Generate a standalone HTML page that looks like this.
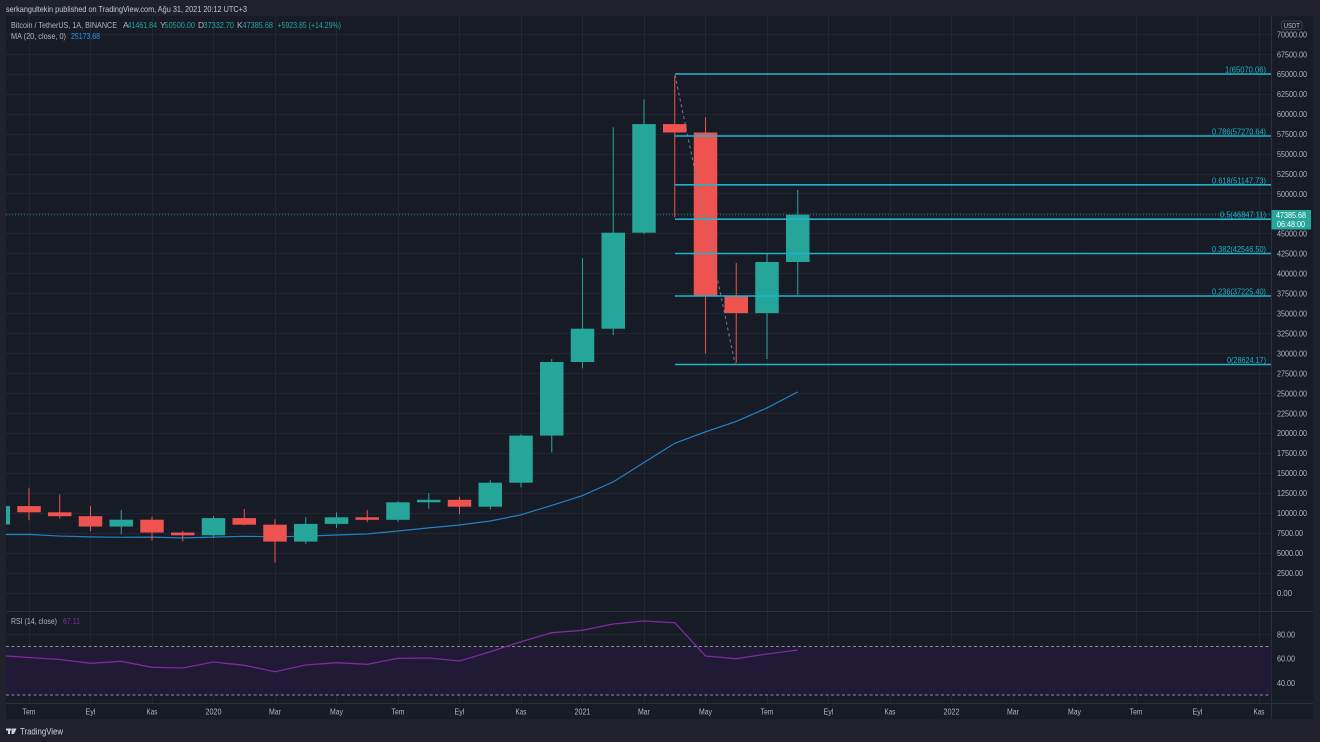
<!DOCTYPE html>
<html><head><meta charset="utf-8"><style>
html,body{margin:0;padding:0;background:#1f222c;}
svg{display:block;font-family:"Liberation Sans",sans-serif;}
</style></head><body>
<svg width="1320" height="742" viewBox="0 0 1320 742" xmlns="http://www.w3.org/2000/svg">
<defs>
<clipPath id="mp"><rect x="6" y="16" width="1265.5" height="595.5"/></clipPath>
<clipPath id="rp"><rect x="6" y="612" width="1265.5" height="91"/></clipPath>
</defs>
<rect x="0" y="0" width="1320" height="742" fill="#1f222c"/>
<text x="6" y="12" font-size="8.5" fill="#c3c6ce" textLength="241" lengthAdjust="spacingAndGlyphs">serkangultekin published on TradingView.com, Ağu 31, 2021 20:12 UTC+3</text>
<rect x="6" y="16" width="1307" height="703" fill="#171b26"/>

<!-- horizontal grid main -->
<g stroke="#222632" stroke-width="1">
<line x1="6" x2="1271" y1="34.5" y2="34.5"/><line x1="6" x2="1271" y1="54.5" y2="54.5"/><line x1="6" x2="1271" y1="74.5" y2="74.5"/><line x1="6" x2="1271" y1="94.5" y2="94.5"/><line x1="6" x2="1271" y1="114.5" y2="114.5"/><line x1="6" x2="1271" y1="134.5" y2="134.5"/><line x1="6" x2="1271" y1="154.5" y2="154.5"/><line x1="6" x2="1271" y1="174.5" y2="174.5"/><line x1="6" x2="1271" y1="193.5" y2="193.5"/><line x1="6" x2="1271" y1="213.5" y2="213.5"/><line x1="6" x2="1271" y1="233.5" y2="233.5"/><line x1="6" x2="1271" y1="253.5" y2="253.5"/><line x1="6" x2="1271" y1="273.5" y2="273.5"/><line x1="6" x2="1271" y1="293.5" y2="293.5"/><line x1="6" x2="1271" y1="313.5" y2="313.5"/><line x1="6" x2="1271" y1="333.5" y2="333.5"/><line x1="6" x2="1271" y1="353.5" y2="353.5"/><line x1="6" x2="1271" y1="373.5" y2="373.5"/><line x1="6" x2="1271" y1="393.5" y2="393.5"/><line x1="6" x2="1271" y1="413.5" y2="413.5"/><line x1="6" x2="1271" y1="433.5" y2="433.5"/><line x1="6" x2="1271" y1="453.5" y2="453.5"/><line x1="6" x2="1271" y1="473.5" y2="473.5"/><line x1="6" x2="1271" y1="493.5" y2="493.5"/><line x1="6" x2="1271" y1="513.5" y2="513.5"/><line x1="6" x2="1271" y1="533.5" y2="533.5"/><line x1="6" x2="1271" y1="553.5" y2="553.5"/><line x1="6" x2="1271" y1="573.5" y2="573.5"/><line x1="6" x2="1271" y1="593.5" y2="593.5"/>
<line x1="6" x2="1271" y1="634.5" y2="634.5"/><line x1="6" x2="1271" y1="658.5" y2="658.5"/><line x1="6" x2="1271" y1="683.5" y2="683.5"/>
</g>
<!-- vertical grid -->
<g stroke="#222632" stroke-width="1">
<line y1="16" y2="703" x1="29.5" x2="29.5"/><line y1="16" y2="703" x1="90.5" x2="90.5"/><line y1="16" y2="703" x1="152.5" x2="152.5"/><line y1="16" y2="703" x1="213.5" x2="213.5"/><line y1="16" y2="703" x1="275.5" x2="275.5"/><line y1="16" y2="703" x1="336.5" x2="336.5"/><line y1="16" y2="703" x1="398.5" x2="398.5"/><line y1="16" y2="703" x1="459.5" x2="459.5"/><line y1="16" y2="703" x1="521.5" x2="521.5"/><line y1="16" y2="703" x1="582.5" x2="582.5"/><line y1="16" y2="703" x1="644.5" x2="644.5"/><line y1="16" y2="703" x1="705.5" x2="705.5"/><line y1="16" y2="703" x1="767.5" x2="767.5"/><line y1="16" y2="703" x1="828.5" x2="828.5"/><line y1="16" y2="703" x1="890.5" x2="890.5"/><line y1="16" y2="703" x1="951.5" x2="951.5"/><line y1="16" y2="703" x1="1013.5" x2="1013.5"/><line y1="16" y2="703" x1="1074.5" x2="1074.5"/><line y1="16" y2="703" x1="1136.5" x2="1136.5"/><line y1="16" y2="703" x1="1197.5" x2="1197.5"/><line y1="16" y2="703" x1="1259.5" x2="1259.5"/>
</g>

<!-- separators -->
<g stroke="#2c303c" stroke-width="1">
<line x1="1271.5" x2="1271.5" y1="16" y2="719"/>
<line x1="6" x2="1313" y1="611.5" y2="611.5"/>
<line x1="6" x2="1313" y1="703.5" y2="703.5"/>
</g>

<!-- main pane -->
<g clip-path="url(#mp)">
<!-- MA -->
<polyline fill="none" stroke="#2183c4" stroke-width="1.2" points="-1.75,534.5 29,534.4 59.75,536.05 90.5,536.85 121.25,537.3 152,537.1 182.75,537.9 213.5,537.15 244.25,536.3 275,536.8 305.75,536.2 336.5,535 367.25,533.95 398,531 428.75,527.9 459.5,525 490.25,521 521,514.8 551.75,505.4 582.5,495.6 613.25,481.9 644,462.5 674.75,443.3 705.5,431.8 736.25,421.45 767,407.9 797.75,391.9"/>
<!-- wicks -->
<g stroke-width="1">
<line stroke="#26a69a" x1="-1.75" x2="-1.75" y1="481.3" y2="533.3"/>
<line stroke="#ef5350" x1="29" x2="29" y1="487.8" y2="520.3"/>
<line stroke="#ef5350" x1="59.75" x2="59.75" y1="494.4" y2="518.4"/>
<line stroke="#ef5350" x1="90.5" x2="90.5" y1="505.7" y2="531.2"/>
<line stroke="#26a69a" x1="121.25" x2="121.25" y1="510" y2="534.5"/>
<line stroke="#ef5350" x1="152" x2="152" y1="516.9" y2="540.7"/>
<line stroke="#ef5350" x1="182.75" x2="182.75" y1="530.9" y2="541.4"/>
<line stroke="#26a69a" x1="213.5" x2="213.5" y1="516.3" y2="537.9"/>
<line stroke="#ef5350" x1="244.25" x2="244.25" y1="508.9" y2="525.3"/>
<line stroke="#ef5350" x1="275" x2="275" y1="519.4" y2="562.5"/>
<line stroke="#26a69a" x1="305.75" x2="305.75" y1="517.2" y2="543.6"/>
<line stroke="#26a69a" x1="336.5" x2="336.5" y1="512.4" y2="527.95"/>
<line stroke="#ef5350" x1="367.25" x2="367.25" y1="509.9" y2="522.2"/>
<line stroke="#26a69a" x1="398" x2="398" y1="501.4" y2="521.8"/>
<line stroke="#26a69a" x1="428.75" x2="428.75" y1="493.2" y2="508.8"/>
<line stroke="#ef5350" x1="459.5" x2="459.5" y1="496.6" y2="514.3"/>
<line stroke="#26a69a" x1="490.25" x2="490.25" y1="480.2" y2="509.6"/>
<line stroke="#26a69a" x1="521" x2="521" y1="434.3" y2="487.4"/>
<line stroke="#26a69a" x1="551.75" x2="551.75" y1="359" y2="452.5"/>
<line stroke="#26a69a" x1="582.5" x2="582.5" y1="258.1" y2="368.3"/>
<line stroke="#26a69a" x1="613.25" x2="613.25" y1="127.2" y2="335.1"/>
<line stroke="#26a69a" x1="644" x2="644" y1="99.4" y2="234.1"/>
<line stroke="#ef5350" x1="674.75" x2="674.75" y1="75.4" y2="217.4"/>
<line stroke="#ef5350" x1="705.5" x2="705.5" y1="117.3" y2="353.4"/>
<line stroke="#ef5350" x1="736.25" x2="736.25" y1="263" y2="362.9"/>
<line stroke="#26a69a" x1="767" x2="767" y1="254.1" y2="359.1"/>
<line stroke="#26a69a" x1="797.75" x2="797.75" y1="189.9" y2="294.9"/>
</g>
<!-- bodies -->
<g>
<rect fill="#26a69a" x="-13.5" y="506.1" width="23.5" height="18.4"/>
<rect fill="#ef5350" x="17.25" y="506.1" width="23.5" height="6.2"/>
<rect fill="#ef5350" x="48" y="512.3" width="23.5" height="3.9"/>
<rect fill="#ef5350" x="78.75" y="516.2" width="23.5" height="10.35"/>
<rect fill="#26a69a" x="109.5" y="519.7" width="23.5" height="6.85"/>
<rect fill="#ef5350" x="140.25" y="519.7" width="23.5" height="12.85"/>
<rect fill="#ef5350" x="171" y="532.55" width="23.5" height="2.75"/>
<rect fill="#26a69a" x="201.75" y="518.1" width="23.5" height="17.2"/>
<rect fill="#ef5350" x="232.5" y="518.1" width="23.5" height="6.6"/>
<rect fill="#ef5350" x="263.25" y="524.7" width="23.5" height="16.9"/>
<rect fill="#26a69a" x="294" y="523.9" width="23.5" height="17.7"/>
<rect fill="#26a69a" x="324.75" y="517.3" width="23.5" height="6.6"/>
<rect fill="#ef5350" x="355.5" y="517.3" width="23.5" height="2.5"/>
<rect fill="#26a69a" x="386.25" y="502.3" width="23.5" height="17.5"/>
<rect fill="#26a69a" x="417" y="499.8" width="23.5" height="2.5"/>
<rect fill="#ef5350" x="447.75" y="499.8" width="23.5" height="6.9"/>
<rect fill="#26a69a" x="478.5" y="482.7" width="23.5" height="24"/>
<rect fill="#26a69a" x="509.25" y="435.6" width="23.5" height="47.1"/>
<rect fill="#26a69a" x="540" y="362" width="23.5" height="73.6"/>
<rect fill="#26a69a" x="570.75" y="328.7" width="23.5" height="33.3"/>
<rect fill="#26a69a" x="601.5" y="232.7" width="23.5" height="96"/>
<rect fill="#26a69a" x="632.25" y="124.1" width="23.5" height="108.6"/>
<rect fill="#ef5350" x="663" y="124.1" width="23.5" height="8.4"/>
<rect fill="#ef5350" x="693.75" y="132.5" width="23.5" height="163"/>
<rect fill="#ef5350" x="724.5" y="295.5" width="23.5" height="17.6"/>
<rect fill="#26a69a" x="755.25" y="262" width="23.5" height="51.1"/>
<rect fill="#26a69a" x="786" y="214.7" width="23.5" height="47.3"/>
</g>
<!-- current price line -->
<line x1="6" x2="1271" y1="214.7" y2="214.7" stroke="#26a69a" stroke-width="1" stroke-dasharray="1,2" opacity="0.8"/>
<!-- fib trend line -->
<line x1="675" y1="75" x2="735" y2="363.5" stroke="#7a7d88" stroke-width="1" stroke-dasharray="3,3"/>
<!-- fib levels -->
<g stroke="#1fb3ca" stroke-width="1.6">
<line x1="675" x2="1271" y1="74" y2="74"/>
<line x1="675" x2="1271" y1="136" y2="136"/>
<line x1="675" x2="1271" y1="184.8" y2="184.8"/>
<line x1="675" x2="1271" y1="219.2" y2="219.2"/>
<line x1="675" x2="1271" y1="253.5" y2="253.5"/>
<line x1="675" x2="1271" y1="296" y2="296"/>
<line x1="675" x2="1271" y1="364.5" y2="364.5"/>
</g>
<g font-size="8" fill="#1fb3ca" text-anchor="end">
<text x="1266" y="72.5" textLength="41" lengthAdjust="spacingAndGlyphs">1(65070.06)</text>
<text x="1266" y="134.5" textLength="54" lengthAdjust="spacingAndGlyphs">0.786(57270.64)</text>
<text x="1266" y="183.3" textLength="54" lengthAdjust="spacingAndGlyphs">0.618(51147.73)</text>
<text x="1266" y="217.7" textLength="46" lengthAdjust="spacingAndGlyphs">0.5(46847.11)</text>
<text x="1266" y="252" textLength="54" lengthAdjust="spacingAndGlyphs">0.382(42546.50)</text>
<text x="1266" y="294.5" textLength="54" lengthAdjust="spacingAndGlyphs">0.236(37225.40)</text>
<text x="1266" y="363" textLength="39" lengthAdjust="spacingAndGlyphs">0(28624.17)</text>
</g>
</g>

<!-- RSI pane -->
<g clip-path="url(#rp)">
<rect x="6" y="646.5" width="1265.5" height="48.5" fill="#211a37"/>
<line x1="6" x2="1271" y1="646.5" y2="646.5" stroke="#8a8d98" stroke-width="1" stroke-dasharray="3,2.5"/>
<line x1="6" x2="1271" y1="695" y2="695" stroke="#8a8d98" stroke-width="1" stroke-dasharray="3,2.5"/>
<polyline fill="none" stroke="#7d2a9e" stroke-width="1.3" points="-1.75,655.5 29,657.5 59.75,659.5 90.5,663.3 121.25,661.3 152,667.3 182.75,668 213.5,662 244.25,665.3 275,671.7 305.75,665 336.5,662.7 367.25,664.3 398,658.3 428.75,658 459.5,661 490.25,651.7 521,641.7 551.75,632.7 582.5,630.3 613.25,624 644,621 674.75,622.7 705.5,656 736.25,658.7 767,654 797.75,650"/>
</g>
<text x="11" y="624" font-size="8" fill="#b2b5be" textLength="46" lengthAdjust="spacingAndGlyphs">RSI (14, close)</text>
<text x="63" y="624" font-size="8" fill="#7d2a9e" textLength="17" lengthAdjust="spacingAndGlyphs">67.11</text>

<!-- legend -->
<g font-size="8.5">
<text x="11" y="28" fill="#b2b5be" textLength="106" lengthAdjust="spacingAndGlyphs">Bitcoin / TetherUS, 1A, BINANCE</text>
<text x="123" y="28" fill="#b2b5be">A</text>
<text x="127.5" y="28" fill="#26a69a" textLength="29.5" lengthAdjust="spacingAndGlyphs">41461.84</text>
<text x="160" y="28" fill="#b2b5be">Y</text>
<text x="164.5" y="28" fill="#26a69a" textLength="30.5" lengthAdjust="spacingAndGlyphs">50500.00</text>
<text x="198" y="28" fill="#b2b5be">D</text>
<text x="203.5" y="28" fill="#26a69a" textLength="30.5" lengthAdjust="spacingAndGlyphs">37332.70</text>
<text x="237" y="28" fill="#b2b5be">K</text>
<text x="242.5" y="28" fill="#26a69a" textLength="30.5" lengthAdjust="spacingAndGlyphs">47385.68</text>
<text x="277.5" y="28" fill="#26a69a" textLength="63.5" lengthAdjust="spacingAndGlyphs">+5923.85 (+14.29%)</text>
<text x="11" y="39" fill="#b2b5be" textLength="55" lengthAdjust="spacingAndGlyphs">MA (20, close, 0)</text>
<text x="71" y="39" fill="#2196f3" textLength="29" lengthAdjust="spacingAndGlyphs">25173.68</text>
</g>

<!-- price axis -->
<rect x="1281.5" y="21" width="20.5" height="8.5" rx="2" fill="none" stroke="#4a4e5a" stroke-width="0.8"/>
<text x="1291.8" y="28" font-size="7.5" fill="#c3c6ce" text-anchor="middle" textLength="16" lengthAdjust="spacingAndGlyphs">USDT</text>
<g font-size="8" fill="#b2b5be">
<text x="1277" y="37.3" textLength="30" lengthAdjust="spacingAndGlyphs">70000.00</text>
<text x="1277" y="57.3" textLength="30" lengthAdjust="spacingAndGlyphs">67500.00</text>
<text x="1277" y="77.2" textLength="30" lengthAdjust="spacingAndGlyphs">65000.00</text>
<text x="1277" y="97.1" textLength="30" lengthAdjust="spacingAndGlyphs">62500.00</text>
<text x="1277" y="117.1" textLength="30" lengthAdjust="spacingAndGlyphs">60000.00</text>
<text x="1277" y="137" textLength="30" lengthAdjust="spacingAndGlyphs">57500.00</text>
<text x="1277" y="157" textLength="30" lengthAdjust="spacingAndGlyphs">55000.00</text>
<text x="1277" y="176.9" textLength="30" lengthAdjust="spacingAndGlyphs">52500.00</text>
<text x="1277" y="196.9" textLength="30" lengthAdjust="spacingAndGlyphs">50000.00</text>
<text x="1277" y="236.7" textLength="30" lengthAdjust="spacingAndGlyphs">45000.00</text>
<text x="1277" y="256.7" textLength="30" lengthAdjust="spacingAndGlyphs">42500.00</text>
<text x="1277" y="276.6" textLength="30" lengthAdjust="spacingAndGlyphs">40000.00</text>
<text x="1277" y="296.6" textLength="30" lengthAdjust="spacingAndGlyphs">37500.00</text>
<text x="1277" y="316.5" textLength="30" lengthAdjust="spacingAndGlyphs">35000.00</text>
<text x="1277" y="336.5" textLength="30" lengthAdjust="spacingAndGlyphs">32500.00</text>
<text x="1277" y="356.4" textLength="30" lengthAdjust="spacingAndGlyphs">30000.00</text>
<text x="1277" y="376.4" textLength="30" lengthAdjust="spacingAndGlyphs">27500.00</text>
<text x="1277" y="396.3" textLength="30" lengthAdjust="spacingAndGlyphs">25000.00</text>
<text x="1277" y="416.3" textLength="30" lengthAdjust="spacingAndGlyphs">22500.00</text>
<text x="1277" y="436.2" textLength="30" lengthAdjust="spacingAndGlyphs">20000.00</text>
<text x="1277" y="456.2" textLength="30" lengthAdjust="spacingAndGlyphs">17500.00</text>
<text x="1277" y="476.1" textLength="30" lengthAdjust="spacingAndGlyphs">15000.00</text>
<text x="1277" y="496.1" textLength="30" lengthAdjust="spacingAndGlyphs">12500.00</text>
<text x="1277" y="516" textLength="30" lengthAdjust="spacingAndGlyphs">10000.00</text>
<text x="1277" y="536" textLength="26" lengthAdjust="spacingAndGlyphs">7500.00</text>
<text x="1277" y="555.9" textLength="26" lengthAdjust="spacingAndGlyphs">5000.00</text>
<text x="1277" y="575.9" textLength="26" lengthAdjust="spacingAndGlyphs">2500.00</text>
<text x="1277" y="595.8" textLength="15" lengthAdjust="spacingAndGlyphs">0.00</text>
<text x="1277" y="637.3" textLength="18" lengthAdjust="spacingAndGlyphs">80.00</text>
<text x="1277" y="661.7" textLength="18" lengthAdjust="spacingAndGlyphs">60.00</text>
<text x="1277" y="686" textLength="18" lengthAdjust="spacingAndGlyphs">40.00</text>
</g>
<rect x="1271.5" y="210" width="39.5" height="19.5" fill="#26a69a"/>
<text x="1291" y="218" font-size="8" fill="#ffffff" text-anchor="middle" textLength="30" lengthAdjust="spacingAndGlyphs">47385.68</text>
<text x="1291" y="227" font-size="8" fill="#ffffff" text-anchor="middle" textLength="28" lengthAdjust="spacingAndGlyphs">06:48:00</text>

<!-- time axis -->
<g font-size="8" fill="#b2b5be" text-anchor="middle">
<text x="29" y="714.5" textLength="13" lengthAdjust="spacingAndGlyphs">Tem</text>
<text x="90.5" y="714.5" textLength="10" lengthAdjust="spacingAndGlyphs">Eyl</text>
<text x="152" y="714.5" textLength="11" lengthAdjust="spacingAndGlyphs">Kas</text>
<text x="213.5" y="714.5" textLength="16" lengthAdjust="spacingAndGlyphs">2020</text>
<text x="275" y="714.5" textLength="12" lengthAdjust="spacingAndGlyphs">Mar</text>
<text x="336.5" y="714.5" textLength="13" lengthAdjust="spacingAndGlyphs">May</text>
<text x="398" y="714.5" textLength="13" lengthAdjust="spacingAndGlyphs">Tem</text>
<text x="459.5" y="714.5" textLength="10" lengthAdjust="spacingAndGlyphs">Eyl</text>
<text x="521" y="714.5" textLength="11" lengthAdjust="spacingAndGlyphs">Kas</text>
<text x="582.5" y="714.5" textLength="16" lengthAdjust="spacingAndGlyphs">2021</text>
<text x="644" y="714.5" textLength="12" lengthAdjust="spacingAndGlyphs">Mar</text>
<text x="705.5" y="714.5" textLength="13" lengthAdjust="spacingAndGlyphs">May</text>
<text x="767" y="714.5" textLength="13" lengthAdjust="spacingAndGlyphs">Tem</text>
<text x="828.5" y="714.5" textLength="10" lengthAdjust="spacingAndGlyphs">Eyl</text>
<text x="890" y="714.5" textLength="11" lengthAdjust="spacingAndGlyphs">Kas</text>
<text x="951.5" y="714.5" textLength="16" lengthAdjust="spacingAndGlyphs">2022</text>
<text x="1013" y="714.5" textLength="12" lengthAdjust="spacingAndGlyphs">Mar</text>
<text x="1074.5" y="714.5" textLength="13" lengthAdjust="spacingAndGlyphs">May</text>
<text x="1136" y="714.5" textLength="13" lengthAdjust="spacingAndGlyphs">Tem</text>
<text x="1197.5" y="714.5" textLength="10" lengthAdjust="spacingAndGlyphs">Eyl</text>
<text x="1259" y="714.5" textLength="11" lengthAdjust="spacingAndGlyphs">Kas</text>
</g>

<!-- footer logo -->
<g fill="#d1d4dc">
<rect x="6" y="728.5" width="5" height="2"/>
<rect x="8" y="728.5" width="2" height="5.5"/>
<polygon points="11.5,728.5 14,728.5 13,734 11.5,734"/>
<polygon points="14,728.5 16.5,728.5 14,734 13,734"/>
</g>
<text x="20" y="734.5" font-size="9" fill="#d1d4dc" textLength="43" lengthAdjust="spacingAndGlyphs">TradingView</text>
</svg>
</body></html>
